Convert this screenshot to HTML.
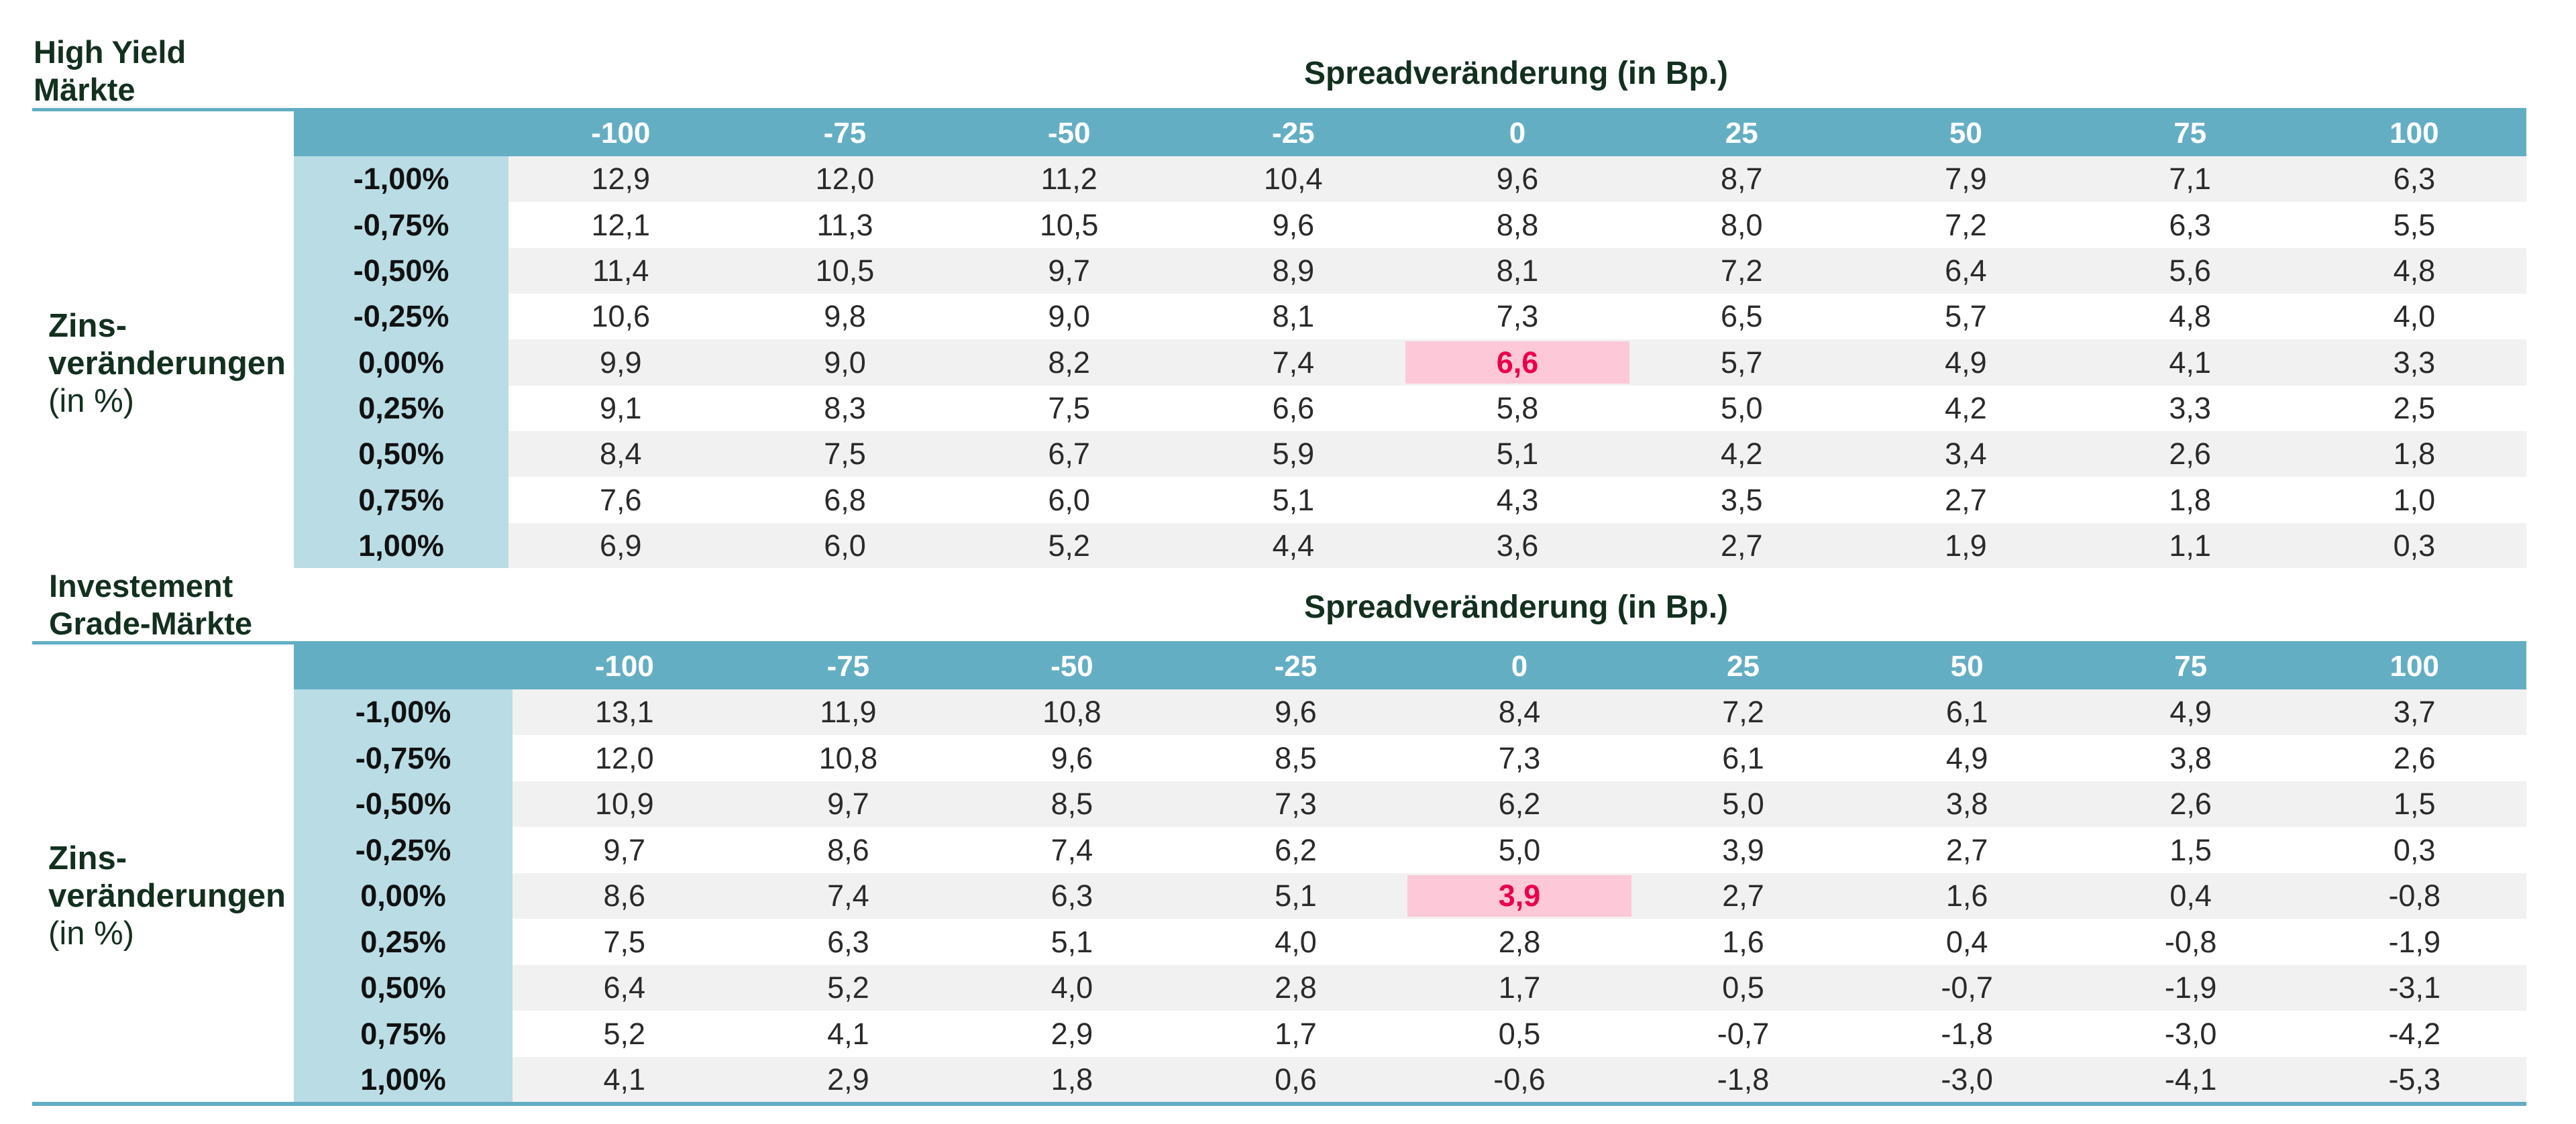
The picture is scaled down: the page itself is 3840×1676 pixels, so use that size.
<!DOCTYPE html>
<html><head><meta charset="utf-8"><style>
*{margin:0;padding:0;box-sizing:border-box}
body{width:3840px;height:1676px;background:#fff;position:relative;overflow:hidden;font-family:"Liberation Sans","DejaVu Sans",sans-serif}
.t{position:absolute;color:#13301f;font-weight:bold;font-size:47px;line-height:56px;white-space:nowrap}
.n{font-weight:normal}
.line{position:absolute;left:48px;width:3718px;height:5px;background:#62adc3}
table{position:absolute;border-collapse:collapse;table-layout:fixed;font-size:45px}
td{text-align:center;padding:0;color:#2a2a2a;white-space:nowrap}
tr.h td{background:#64aec4;color:#fff;font-weight:bold;height:68px;font-size:44px}
tr.g td{background:#f1f1f1}
td.l{background:#badce5!important;font-weight:bold;color:#111;font-size:45px}
td.p{color:#e8004a;font-weight:bold;background:linear-gradient(#f1f1f1 0,#f1f1f1 3px,#fdc8d7 3px,#fdc8d7 calc(100% - 3px),#f1f1f1 calc(100% - 3px))!important}
</style></head><body>
<div class="t" style="left:50px;top:50px">High Yield<br>Märkte</div>
<div class="t" style="left:1900px;top:82px;width:720px;text-align:center;font-size:48px">Spreadveränderung (in Bp.)</div>
<div class="line" style="top:161px"></div>
<div class="t" style="left:72px;top:458px;font-size:49px">Zins-<br>veränderungen<br><span class="n">(in %)</span></div>
<table style="left:438px;top:165px;width:3328px">
<colgroup><col style="width:320px"><col span="9" style="width:334px"></colgroup>
<tr class="h"><td></td><td>-100</td><td>-75</td><td>-50</td><td>-25</td><td>0</td><td>25</td><td>50</td><td>75</td><td>100</td></tr>
<tr class="g" style="height:68px"><td class="l">-1,00%</td><td>12,9</td><td>12,0</td><td>11,2</td><td>10,4</td><td>9,6</td><td>8,7</td><td>7,9</td><td>7,1</td><td>6,3</td></tr>
<tr style="height:69px"><td class="l">-0,75%</td><td>12,1</td><td>11,3</td><td>10,5</td><td>9,6</td><td>8,8</td><td>8,0</td><td>7,2</td><td>6,3</td><td>5,5</td></tr>
<tr class="g" style="height:68px"><td class="l">-0,50%</td><td>11,4</td><td>10,5</td><td>9,7</td><td>8,9</td><td>8,1</td><td>7,2</td><td>6,4</td><td>5,6</td><td>4,8</td></tr>
<tr style="height:68px"><td class="l">-0,25%</td><td>10,6</td><td>9,8</td><td>9,0</td><td>8,1</td><td>7,3</td><td>6,5</td><td>5,7</td><td>4,8</td><td>4,0</td></tr>
<tr class="g" style="height:69px"><td class="l">0,00%</td><td>9,9</td><td>9,0</td><td>8,2</td><td>7,4</td><td class="p">6,6</td><td>5,7</td><td>4,9</td><td>4,1</td><td>3,3</td></tr>
<tr style="height:68px"><td class="l">0,25%</td><td>9,1</td><td>8,3</td><td>7,5</td><td>6,6</td><td>5,8</td><td>5,0</td><td>4,2</td><td>3,3</td><td>2,5</td></tr>
<tr class="g" style="height:68px"><td class="l">0,50%</td><td>8,4</td><td>7,5</td><td>6,7</td><td>5,9</td><td>5,1</td><td>4,2</td><td>3,4</td><td>2,6</td><td>1,8</td></tr>
<tr style="height:69px"><td class="l">0,75%</td><td>7,6</td><td>6,8</td><td>6,0</td><td>5,1</td><td>4,3</td><td>3,5</td><td>2,7</td><td>1,8</td><td>1,0</td></tr>
<tr class="g" style="height:67px"><td class="l">1,00%</td><td>6,9</td><td>6,0</td><td>5,2</td><td>4,4</td><td>3,6</td><td>2,7</td><td>1,9</td><td>1,1</td><td>0,3</td></tr>
</table>

<div class="t" style="left:73px;top:846px">Investement<br>Grade-Märkte</div>
<div class="t" style="left:1900px;top:878px;width:720px;text-align:center;font-size:48px">Spreadveränderung (in Bp.)</div>
<div class="line" style="top:956px"></div>
<div class="t" style="left:72px;top:1252px;font-size:49px">Zins-<br>veränderungen<br><span class="n">(in %)</span></div>
<table style="left:438px;top:960px;width:3328px">
<colgroup><col style="width:326px"><col span="9" style="width:333.5px"></colgroup>
<tr class="h" style="height:67px"><td></td><td>-100</td><td>-75</td><td>-50</td><td>-25</td><td>0</td><td>25</td><td>50</td><td>75</td><td>100</td></tr>
<tr class="g" style="height:68px"><td class="l">-1,00%</td><td>13,1</td><td>11,9</td><td>10,8</td><td>9,6</td><td>8,4</td><td>7,2</td><td>6,1</td><td>4,9</td><td>3,7</td></tr>
<tr style="height:69px"><td class="l">-0,75%</td><td>12,0</td><td>10,8</td><td>9,6</td><td>8,5</td><td>7,3</td><td>6,1</td><td>4,9</td><td>3,8</td><td>2,6</td></tr>
<tr class="g" style="height:68px"><td class="l">-0,50%</td><td>10,9</td><td>9,7</td><td>8,5</td><td>7,3</td><td>6,2</td><td>5,0</td><td>3,8</td><td>2,6</td><td>1,5</td></tr>
<tr style="height:69px"><td class="l">-0,25%</td><td>9,7</td><td>8,6</td><td>7,4</td><td>6,2</td><td>5,0</td><td>3,9</td><td>2,7</td><td>1,5</td><td>0,3</td></tr>
<tr class="g" style="height:68px"><td class="l">0,00%</td><td>8,6</td><td>7,4</td><td>6,3</td><td>5,1</td><td class="p">3,9</td><td>2,7</td><td>1,6</td><td>0,4</td><td>-0,8</td></tr>
<tr style="height:69px"><td class="l">0,25%</td><td>7,5</td><td>6,3</td><td>5,1</td><td>4,0</td><td>2,8</td><td>1,6</td><td>0,4</td><td>-0,8</td><td>-1,9</td></tr>
<tr class="g" style="height:68px"><td class="l">0,50%</td><td>6,4</td><td>5,2</td><td>4,0</td><td>2,8</td><td>1,7</td><td>0,5</td><td>-0,7</td><td>-1,9</td><td>-3,1</td></tr>
<tr style="height:69px"><td class="l">0,75%</td><td>5,2</td><td>4,1</td><td>2,9</td><td>1,7</td><td>0,5</td><td>-0,7</td><td>-1,8</td><td>-3,0</td><td>-4,2</td></tr>
<tr class="g" style="height:68px"><td class="l">1,00%</td><td>4,1</td><td>2,9</td><td>1,8</td><td>0,6</td><td>-0,6</td><td>-1,8</td><td>-3,0</td><td>-4,1</td><td>-5,3</td></tr>
</table>
<div class="line" style="top:1643px;height:6px"></div>
</body></html>
